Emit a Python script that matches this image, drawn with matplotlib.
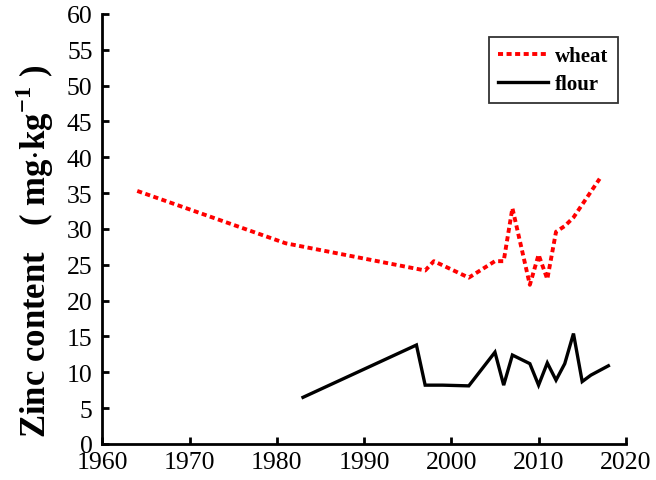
import matplotlib
matplotlib.use("Agg")
import matplotlib.pyplot as plt

plt.rcParams['font.family'] = ['Liberation Serif', 'DejaVu Serif']
plt.rcParams['mathtext.fontset'] = 'custom'
plt.rcParams['mathtext.rm'] = 'Liberation Serif'
plt.rcParams['mathtext.bf'] = 'Liberation Serif:bold'

# wheat zinc content (mg/kg)
wheat_years = [1964, 1981, 1997, 1998, 2002, 2005, 2006, 2007, 2009, 2010,
               2011, 2012, 2013, 2014, 2017]
wheat_zinc = [35.3, 28.0, 24.2, 25.5, 23.2, 25.5, 25.5, 32.9, 22.2, 26.4,
              23.0, 29.6, 30.4, 31.6, 37.0]

# flour zinc content (mg/kg)
flour_years = [1983, 1996, 1997, 1999, 2002, 2005, 2006, 2007, 2009, 2010,
               2011, 2012, 2013, 2014, 2015, 2016, 2018]
flour_zinc = [6.5, 13.8, 8.2, 8.2, 8.1, 12.8, 8.2, 12.4, 11.2, 8.2,
              11.3, 8.9, 11.2, 15.4, 8.7, 9.6, 10.9]

x_ticks = list(range(1960, 2021, 10))
y_ticks = list(range(0, 61, 5))

fig = plt.figure(figsize=(6.56, 4.81), dpi=100)
ax = fig.add_axes([0.156, 0.075, 0.798, 0.894])

ax.plot(wheat_years, wheat_zinc, color='#ff0000', lw=2.8,
        linestyle=(0, (1.3, 0.9)), label='wheat')
ax.plot(flour_years, flour_zinc, color='black', lw=2.4,
        solid_joinstyle='miter', label='flour')

ax.set_xlim(1960, 2020)
ax.set_ylim(0, 60)
ax.set_xticks(x_ticks)
ax.set_yticks(y_ticks)

for side in ['top', 'right']:
    ax.spines[side].set_visible(False)
for side in ['left', 'bottom']:
    ax.spines[side].set_linewidth(2.0)

ax.tick_params(direction='in', length=5, width=2, labelsize=18.5, pad=7,
               colors='black')
ax.tick_params(axis='x', pad=5)

ax.set_ylabel(r'Zinc content   ( mg$\cdot$kg$^{\mathbf{-1}}$ )',
              fontsize=25, fontweight='bold')
ax.yaxis.set_label_coords(-0.088, 0.45)

leg = ax.legend(loc='upper right', bbox_to_anchor=(0.985, 0.947),
                borderaxespad=0, prop={'weight': 'bold', 'size': 15},
                frameon=True, fancybox=False, edgecolor='black',
                handlelength=2.4, borderpad=0.45, labelspacing=0.38,
                handletextpad=0.35)
leg.get_frame().set_linewidth(1.3)

fig.savefig('out.png', dpi=100)
